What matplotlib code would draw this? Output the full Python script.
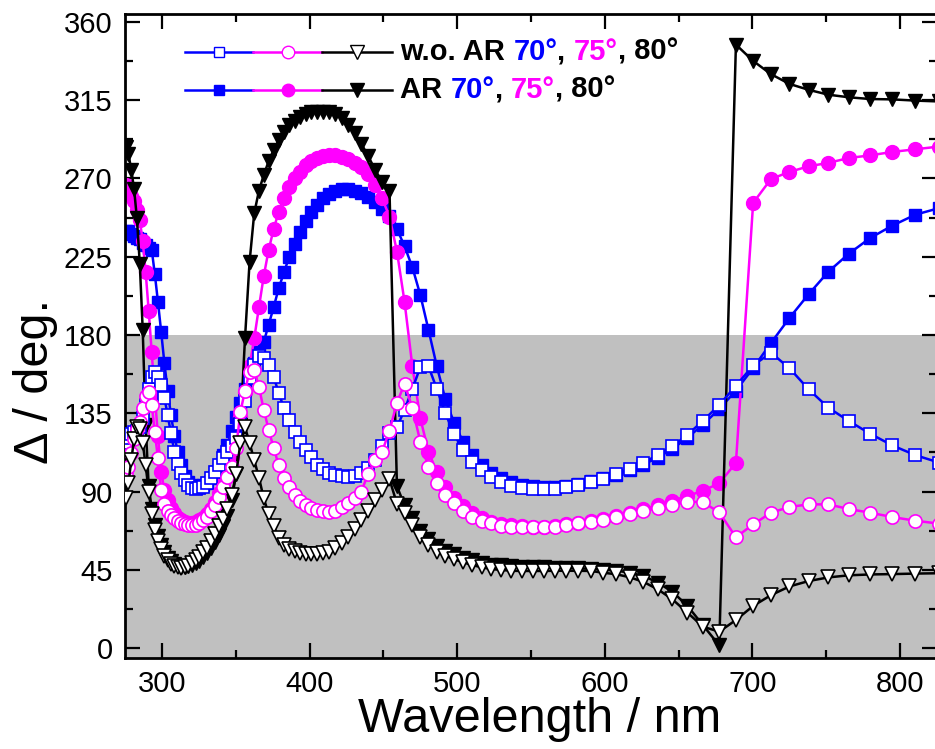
import numpy as np
import matplotlib
matplotlib.use("Agg")
import matplotlib.pyplot as plt
from matplotlib.ticker import MultipleLocator

plt.rcParams['font.family'] = ['Liberation Sans', 'DejaVu Sans']

# ellipsometer scan: photon energy in 0.03 eV steps, converted to wavelength
energy = np.round(np.arange(4.50, 1.485, -0.03), 2)
wavelength = 1239.84 / energy

# Delta (deg.) with anti-reflection coating, angles of incidence 70/75/80 deg
ar_70 = [240, 240, 238, 237, 236, 235, 233, 232, 230, 229,
         215, 199, 182, 164, 148, 134, 122, 113, 105, 99,
         95.5, 93.5, 92.5, 92.5, 93.5, 95, 97.5, 101, 105.5, 111,
         117, 125, 133, 141, 149, 157, 164, 170, 176, 186,
         196, 207, 216, 225, 232.5, 239.5, 245.5, 250.5, 255, 258.5,
         261, 263, 264, 264, 263, 261.5, 259.5, 256.5, 252.5, 248.5,
         241, 231, 219, 203, 183, 162, 143, 129.5, 118.6, 111,
         105.2, 100.8, 97.6, 95.3, 93.7, 93, 92.5, 92.7, 93.3, 94.3,
         95.8, 97.5, 99.5, 102.3, 105.5, 109.5, 114.5, 121, 128.5, 137.5,
         148, 161, 175.4, 189.8, 203.4, 216.4, 226.8, 235.8, 242.9, 249.2, 253]
ar_75 = [266, 263, 260, 257, 252, 246, 234, 216, 194, 170,
         145, 122, 101, 91, 85, 80.5, 77.5, 75, 73.5, 72.5,
         72, 72, 72.5, 73.5, 75, 77, 80, 84, 89, 95,
         102, 110, 120, 133, 147, 162, 178, 196, 214, 229,
         241, 251, 259, 265, 270, 274, 277.5, 280, 282, 283,
         283.5, 283.3, 282.5, 281, 279, 276.5, 272.5, 266.5, 258.5, 248,
         228, 199, 162, 132, 113, 101, 92.5, 86, 81.5, 77.5,
         74.6, 72.6, 71.3, 70.5, 70, 69.8, 69.8, 70.3, 71.1, 71.8,
         72.8, 74.2, 75.8, 77.7, 80, 82, 84.7, 87.4, 90.5, 94.7,
         106.5, 256, 269.7, 273.8, 277, 279, 281.8, 283.3, 285.3, 286.8, 288.4]
ar_80 = [288, 284, 275, 264, 247, 221, 183, 128, 93, 80,
         71, 64.5, 59, 55, 52, 49.8, 48.2, 47.2, 46.7, 46.7,
         47, 47.7, 48.8, 50.3, 52.2, 54.6, 57.5, 61, 65, 70,
         76, 85, 100, 128, 178, 222, 250, 263, 272, 280,
         286.5, 292, 297, 300.5, 303, 305.5, 307, 308, 308.5, 308.5,
         308, 307, 305, 301, 296, 290, 283, 275, 268, 263,
         93, 82, 74.5, 67.5, 62.5, 58.5, 56, 54, 52, 50.5,
         49, 48, 47.5, 47, 46.7, 46.5, 46.3, 46.2, 46, 45.8,
         45.6, 45, 44.5, 43.3, 41.5, 37.6, 32.4, 24.2, 13, 1.5,
         347, 337.6, 330, 324.4, 321, 318.2, 316.7, 315.7, 315.5, 314.8, 314.3]

# Delta (deg.) without coating
wo_70 = [118, 121, 123, 124, 125, 127, 132, 140, 149, 156,
         159, 156, 151, 144, 134, 123.5, 113, 106, 100.5, 96.6,
         94, 92.3, 91.7, 91.8, 92.8, 95, 98, 101.5, 105, 109,
         112.5, 116, 121, 129, 142, 155, 163, 168, 167, 163,
         156, 146.5, 138, 131, 124, 118.5, 114, 110, 105.5, 102.8,
         100.8, 99.3, 98.7, 98.6, 99.2, 100.7, 103.4, 108, 116, 123.5,
         127, 137, 149, 161.5, 162, 149, 135, 123, 114, 107,
         102.4, 98.2, 95.3, 93.4, 92.2, 91.6, 91.2, 91.6, 92.4, 93.8,
         95.2, 97.2, 99.8, 102.9, 106.6, 111, 116, 122.7, 130.7, 139.8,
         150.8, 162.5, 169.8, 160.9, 148.8, 138.2, 130.5, 123.2, 116.5, 110.9, 106.6]
wo_75 = [100, 104, 112, 120, 126, 130, 138, 145, 147, 140,
         124, 109, 91, 83, 79, 76.5, 74.5, 73, 72, 71.3,
         70.8, 70.7, 71, 72, 73.5, 75.5, 78.5, 82, 87, 92.5,
         98.5, 104, 115, 136, 148, 159, 160, 150, 137, 125.4,
         115, 105, 97.6, 92.8, 88, 84.5, 82.3, 80.5, 79.3, 78.6,
         78.4, 79, 81, 83.2, 86, 90, 100, 108, 113, 125,
         141, 152, 138, 118.7, 104, 94.7, 88, 83.2, 79, 75.5,
         73.2, 71.7, 70.3, 69.8, 69.8, 69.4, 69.4, 69.8, 70.7, 71.7,
         72.6, 73.6, 75.1, 76.9, 79, 80.3, 82.2, 84.2, 83.8, 78,
         63.7, 71.1, 77.8, 81.1, 82.6, 82.6, 79.9, 77.8, 75.3, 73.2, 71.5]
wo_80 = [86, 95, 108, 120, 127, 126, 118, 105, 90, 77,
         68, 61.5, 57, 53, 50.5, 48.5, 47.2, 46.5, 46.2, 46.5,
         47.3, 48.7, 50.5, 52.5, 55, 57.5, 61.5, 65.5, 70, 74,
         80, 88, 100, 118, 127, 118, 108, 98, 86, 77,
         70, 63.5, 59.5, 57, 55.5, 54.7, 54.3, 54.1, 54.2, 54.6,
         55.4, 57.5, 60.5, 64, 68.5, 73.5, 79, 85, 91, 97,
         83, 77.5, 70.7, 64, 59.2, 55.4, 53.1, 51, 49.3, 47.7,
         46.4, 45.4, 44.9, 44.4, 44.3, 44.3, 44.3, 44.4, 44.4, 44.4,
         44.3, 43.3, 42.4, 40.7, 38, 33.8, 28, 20.3, 12.2, 9.4,
         16.1, 24.2, 30.4, 35.4, 38.5, 40.6, 41.8, 42.3, 42.5, 42.8, 43]

angles = ["70°", "75°", "80°"]
colors = ["#0000ff", "#ff00ff", "#000000"]
markers = ["s", "o", "v"]
msizes = [8.5, 10, 10.5]

fig = plt.figure(figsize=(9.35, 7.49), dpi=100)
ax = fig.add_axes([125 / 935, 91 / 749, 812 / 935, 644 / 749])

# grey band marks the 0..180 deg half of the phase range
ax.axhspan(-10, 180, color="#c0c0c0", lw=0, zorder=0)

# coated samples first, uncoated on top (open symbols)
for data, c, m, ms in zip([ar_70, ar_75, ar_80], colors, markers, msizes):
    ax.plot(wavelength, data, marker=m, color=c, mfc=c, mec=c, ms=ms,
            mew=1, lw=1.8, zorder=2)
for data, c, m, ms in zip([wo_70, wo_75, wo_80], colors, markers, msizes):
    ax.plot(wavelength, data, marker=m, color=c, mfc="white", mec=c,
            ms=ms - 0.5, mew=1.2, lw=1.8, zorder=3)

ax.set_xlim(275, 825)
ax.set_ylim(-5.75, 364.6)
ax.xaxis.set_major_locator(MultipleLocator(100))
ax.xaxis.set_minor_locator(MultipleLocator(50))
ax.yaxis.set_major_locator(MultipleLocator(45))
ax.yaxis.set_minor_locator(MultipleLocator(22.5))
ax.tick_params(which="both", direction="in", top=True, right=True,
               width=1.6, labelsize=21, pad=9)
ax.tick_params(which="major", length=11)
ax.tick_params(which="minor", length=6)
for sp in ax.spines.values():
    sp.set_linewidth(2)

ax.set_xlabel("Wavelength / nm", fontsize=35)
ax.set_ylabel("Δ / deg.", fontsize=35)
ax.xaxis.set_label_coords(0.511, -0.06)
ax.yaxis.set_label_coords(-0.083, 0.43)


# hand-made two-row legend: one line segment per angle, then coloured text
def legend_row(y, filled, parts):
    seg = [(0.074, 0.158), (0.158, 0.243), (0.243, 0.329)]
    for (x0, x1), c, m, ms in zip(seg, colors, markers, msizes):
        ax.plot([x0, x1], [y, y], color=c, lw=1.8, transform=ax.transAxes,
                clip_on=False, zorder=5)
        ax.plot([(x0 + x1) / 2], [y], marker=m, ms=ms - 1,
                mfc=c if filled else "white", mec=c, mew=1,
                transform=ax.transAxes, clip_on=False, zorder=6)
    txt = ax.text(0.339, y, parts[0][0], color=parts[0][1], fontsize=21,
                  fontweight="bold", va="center", ha="left",
                  transform=ax.transAxes)
    for s, c in parts[1:]:
        txt = ax.annotate(s, xy=(1, 0), xycoords=txt, va="bottom",
                          color=c, fontsize=21, fontweight="bold")


def label_parts(prefix):
    return [(prefix, "k"), (angles[0], colors[0]), (", ", "k"),
            (angles[1], colors[1]), (", " + angles[2], "k")]


legend_row(0.941, False, label_parts("w.o. AR "))
legend_row(0.882, True, label_parts("AR "))

fig.savefig("out.png", dpi=100)
